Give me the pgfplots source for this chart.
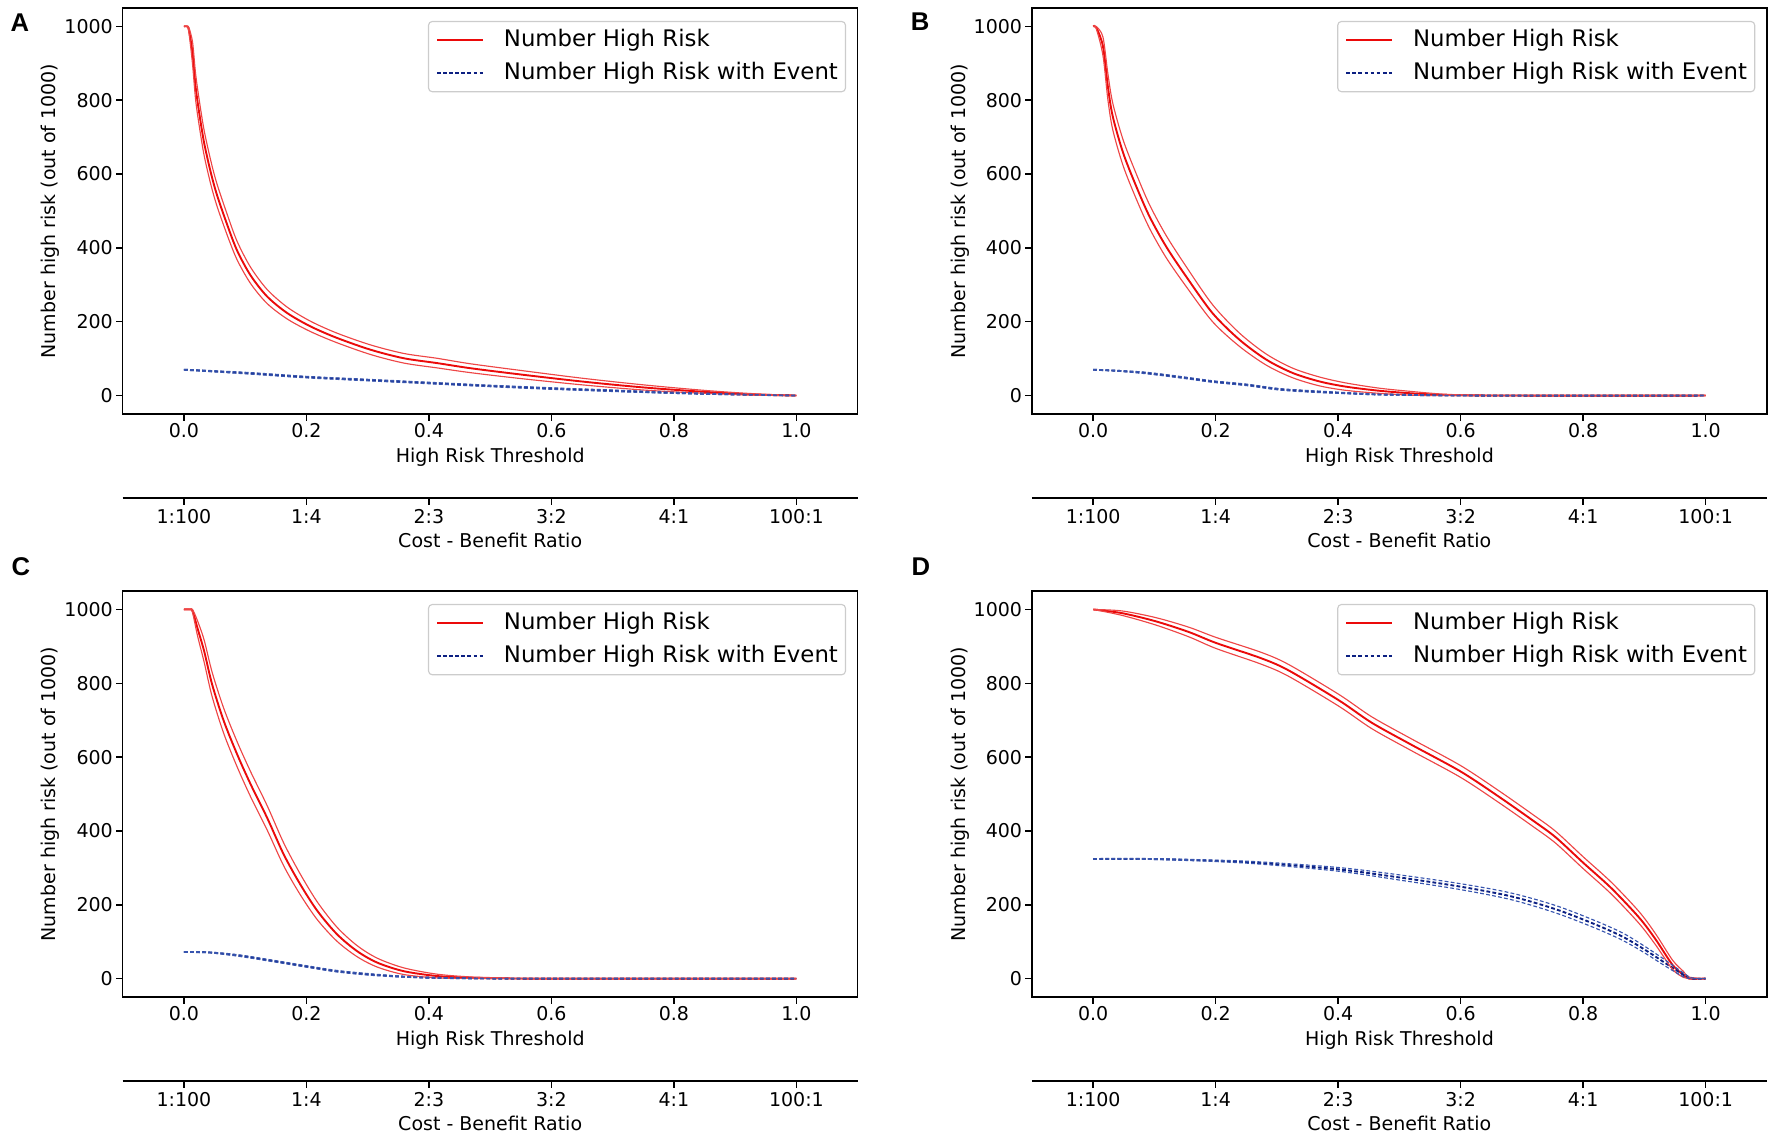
\documentclass[border=0pt]{standalone}
\usepackage{fontspec}
\setmainfont{DejaVu Sans}
\newfontfamily\letterfont{Liberation Sans}
\usepackage{pgfplots}
\usepackage{pgfplotstable}
\pgfplotsset{compat=1.18}

\definecolor{rmain}{RGB}{235,10,10}
\definecolor{rci}{RGB}{238,70,70}
\definecolor{bmain}{RGB}{12,32,130}
\definecolor{bci}{RGB}{55,85,175}

% columns: threshold, mean, lower, upper
\pgfplotstableread{
t m lo hi
0.000 1000 1000 1000
0.005 1000 1000 1000
0.008 991 985 997
0.014 928 898 958
0.019 837 802 872
0.025 765 730 800
0.033 684 650 718
0.044 603 571 635
0.054 543 513 573
0.071 461 433 489
0.087 392 367 417
0.109 325 303 347
0.136 268 249 287
0.169 223 207 239
0.207 187 173 201
0.250 156 143 169
0.305 124 111 137
0.359 101 88 114
0.413 88 75 101
0.468 74 62 86
0.550 57 46 68
0.650 38 29 47
0.750 22 15 29
0.850 10 6 14
0.930 3 1 5
1.000 0 0 0
}\Ared
\pgfplotstableread{
t m lo hi
0.00 70 69 71
0.10 61 59 63
0.20 50 48 52
0.30 42 40 44
0.40 34 32 36
0.50 26 24 28
0.60 19 17 21
0.70 13 11 15
0.80 7 6 9
0.90 3 2 4
1.00 0 0 0
}\Ablue
\pgfplotstableread{
t m lo hi
0.000 1000 1000 1000
0.005 997 994 1000
0.016 946 921 971
0.024 837 802 872
0.032 756 720 792
0.049 657 622 692
0.0705 566 532 600
0.092 485 453 517
0.119 404 374 434
0.152 322 295 349
0.195 223 200 246
0.239 151 133 169
0.283 97 82 112
0.326 61 48 74
0.370 38 26 50
0.413 24 14 34
0.467 13 6 20
0.520 6 1 11
0.570 2 0 4
0.620 0.5 0 1
0.700 0 0 0
1.000 0 0 0
}\Bred
\pgfplotstableread{
t m lo hi
0.000 70 69 71
0.040 67 66 68
0.087 61 59 63
0.141 50 48 52
0.195 38 36 40
0.250 29 27 31
0.304 17 15 19
0.358 11 9 13
0.413 6.5 5 8
0.467 3 2 4
0.550 1 0 2
0.620 0 0 0
1.000 0 0 0
}\Bblue
\pgfplotstableread{
t m lo hi
0.000 1000 1000 1000
0.010 1000 1000 1000
0.014 996 992 1000
0.022 950 930 970
0.033 887 857 917
0.046 797 764 830
0.065 698 664 732
0.087 607 573 641
0.109 526 492 560
0.136 435 402 468
0.163 336 305 367
0.190 255 227 283
0.218 183 159 207
0.250 120 101 139
0.283 74 59 89
0.316 43 31 55
0.359 20 11 29
0.413 7 2 12
0.468 2.5 0.5 4.5
0.520 1 0 2
0.580 0 0 0
1.000 0 0 0
}\Cred
\pgfplotstableread{
t m lo hi
0.000 72 71 73
0.040 71 70 72
0.087 63 61 65
0.141 49 47 51
0.196 34 32 36
0.250 20 18 22
0.305 11 9 13
0.359 5 4 6
0.413 2 1 3
0.480 0.5 0 1
0.550 0 0 0
1.000 0 0 0
}\Cblue
\pgfplotstableread{
t m lo hi
0.000 1000 1000 1000
0.047 990 984 996
0.102 968 958 978
0.156 939 926 952
0.201 909 894 924
0.274 868 852 884
0.319 835 819 851
0.401 754 738 770
0.455 693 677 709
0.519 634 618 650
0.600 561 545 577
0.664 491 475 507
0.719 427 411 443
0.755 383 367 399
0.800 314 298 330
0.846 245 229 261
0.891 166 150 182
0.918 107 92 122
0.946 37 25 50
0.964 10 3 19
0.973 0 0 4
1.000 0 0 0
}\Dred
\pgfplotstableread{
t m lo hi
0.000 324 324 324
0.093 324 323 325
0.200 319 317 321
0.274 313 310 316
0.400 296 291 301
0.500 274 267 281
0.600 249 241 257
0.682 223 214 232
0.755 188 178 198
0.818 148 138 158
0.864 114 104 124
0.900 79 70 88
0.936 40 32 48
0.964 10 5 15
0.977 0 0 2
1.000 0 0 0
}\Dblue

\pgfplotsset{
  panel/.style={
    scale only axis, width=386.8pt, height=213.7pt, anchor=south west,
    xmin=-0.1, xmax=1.1, ymin=-50, ymax=1050,
    xtick={0,0.2,0.4,0.6,0.8,1}, ytick={0,200,400,600,800,1000},
    xticklabel style={/pgf/number format/fixed, /pgf/number format/fixed zerofill,
      /pgf/number format/precision=1},
    /pgf/number format/1000 sep={},
    /pgf/number format/assume math mode=true,
    scaled ticks=false,
    tick align=outside, tick pos=left, major tick length=3.5pt,
    every tick/.style={black, line width=0.8pt},
    axis line style={line width=0.8pt},
    xticklabel style={inner sep=0pt, anchor=north, yshift=-1.2pt},
    yticklabel style={inner sep=0pt, anchor=east, xshift=-1.5pt},
    xlabel={High Risk Threshold},
    ylabel={Number high risk (out of 1000)},
    every axis x label/.style={at={(axis description cs:0.5,0)}, anchor=north,
      inner sep=0pt, yshift=-17.6pt},
    every axis y label/.style={at={(axis description cs:-0.085,0.5)}, rotate=90,
      anchor=south, inner sep=0pt},
    legend cell align=left,
    legend image code/.code={\draw[##1] (0pt,0pt) -- (24.2pt,0pt);},
    legend style={at={(1,1)}, anchor=north east, xshift=-6.1pt, yshift=-6.8pt,
      draw=black!20, rounded corners=2pt, line width=0.6pt,
      font=\fontsize{12}{14}\selectfont, inner sep=4pt, row sep=6pt, column sep=10.5pt,
      nodes={inner sep=0pt, text height=9pt, text depth=2.5pt}},
  },
  cbaxis/.style={
    scale only axis, width=386.8pt, height=10pt, anchor=south west,
    xmin=-0.1, xmax=1.1, ymin=0, ymax=1,
    axis x line=bottom, axis y line=none,
    x axis line style={-, line width=0.8pt},
    xtick={0,0.2,0.4,0.6,0.8,1},
    xticklabels={1:100,1:4,2:3,3:2,4:1,100:1},
    tick align=outside, major tick length=3.5pt,
    every tick/.style={black, line width=0.8pt},
    xticklabel style={inner sep=0pt, anchor=north, yshift=-2.3pt},
    xlabel={Cost - Benefit Ratio},
    every axis x label/.style={at={(axis description cs:0.5,0)}, anchor=north,
      inner sep=0pt, yshift=-18pt},
  },
  rm/.style={rmain, line width=1pt, smooth, tension=0.5},
  rc/.style={rci, line width=0.6pt, smooth, tension=0.5, forget plot},
  bm/.style={bmain, line width=1pt, dash pattern=on 2pt off 1.2pt, smooth, tension=0.5},
  bc/.style={bci, line width=0.6pt, dash pattern=on 2pt off 1.2pt, smooth, tension=0.5, forget plot},
}

\newcommand{\curves}[2]{%
  \addplot[rm] table[x=t,y=m]{#1};
  \addlegendentry{Number High Risk}
  \addplot[bm] table[x=t,y=m]{#2};
  \addlegendentry{Number High Risk with Event}
  \addplot[rc] table[x=t,y=lo]{#1};
  \addplot[rc] table[x=t,y=hi]{#1};
  \addplot[bc] table[x=t,y=lo]{#2};
  \addplot[bc] table[x=t,y=hi]{#2};
}

\begin{document}
\fontsize{10}{12}\selectfont
\begin{tikzpicture}
\useasboundingbox (0,0) rectangle (932.6pt,595.8pt);

% A
\begin{axis}[panel, at={(64.58pt,377.9pt)}]
\curves{\Ared}{\Ablue}
\end{axis}
\begin{axis}[cbaxis, at={(64.58pt,333.7pt)}]
\addplot[draw=none] coordinates {(0,0) (1,1)};
\end{axis}

% B
\begin{axis}[panel, at={(543.1pt,377.9pt)}]
\curves{\Bred}{\Bblue}
\end{axis}
\begin{axis}[cbaxis, at={(543.1pt,333.7pt)}]
\addplot[draw=none] coordinates {(0,0) (1,1)};
\end{axis}

% C
\begin{axis}[panel, at={(64.58pt,71.05pt)}]
\curves{\Cred}{\Cblue}
\end{axis}
\begin{axis}[cbaxis, at={(64.58pt,26.84pt)}]
\addplot[draw=none] coordinates {(0,0) (1,1)};
\end{axis}

% D
\begin{axis}[panel, at={(543.1pt,71.05pt)}]
\curves{\Dred}{\Dblue}
\end{axis}
\begin{axis}[cbaxis, at={(543.1pt,26.84pt)}]
\addplot[draw=none] coordinates {(0,0) (1,1)};
\end{axis}

\node[font=\letterfont\bfseries\fontsize{13.5}{15}\selectfont] at (10.5pt,584pt) {A};
\node[font=\letterfont\bfseries\fontsize{13.5}{15}\selectfont] at (484.2pt,584.2pt) {B};
\node[font=\letterfont\bfseries\fontsize{13.5}{15}\selectfont] at (11pt,297.6pt) {C};
\node[font=\letterfont\bfseries\fontsize{13.5}{15}\selectfont] at (484.7pt,297.6pt) {D};
\end{tikzpicture}
\end{document}
